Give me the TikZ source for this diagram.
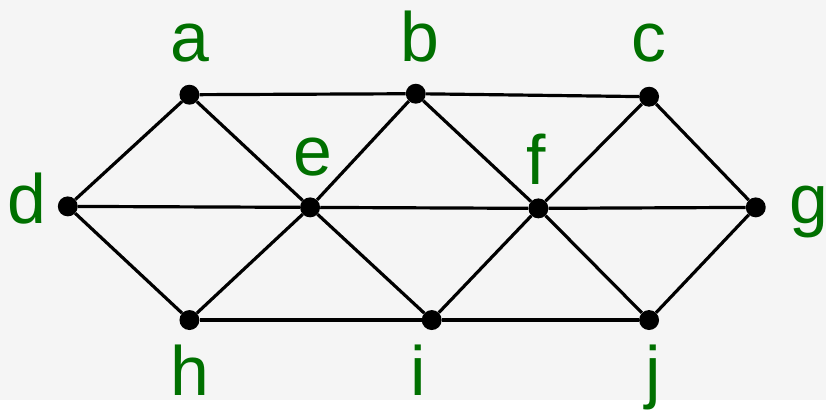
\documentclass[tikz,border=0pt]{standalone}
\usepackage{fontspec}
\setmainfont{Liberation Sans}
\usepackage{tikz}

\definecolor{labelgreen}{RGB}{0,112,0}
\definecolor{bggrey}{RGB}{245,245,245}

\tikzset{
  vertex/.style={circle, fill=black, inner sep=0pt, minimum size=20pt},
  edge/.style={draw=black, line width=3.2pt},
  vlabel/.style={anchor=base, inner sep=0pt, text=labelgreen,
    font=\fontsize{70}{70}\selectfont}
}

\begin{document}
\begin{tikzpicture}[x=1pt, y=1pt]
  % background
  \fill[bggrey] (0,0) rectangle (828,401);
  % vertices
  \node[vertex] (a) at (190,306) {};
  \node[vertex] (b) at (417,307) {};
  \node[vertex] (c) at (651,304) {};
  \node[vertex] (d) at (68,194) {};
  \node[vertex] (e) at (311,193) {};
  \node[vertex] (f) at (540,192) {};
  \node[vertex] (g) at (758,193) {};
  \node[vertex] (h) at (190,80) {};
  \node[vertex] (i) at (433,80) {};
  \node[vertex] (j) at (651,80) {};
  % horizontal edges
  \draw[edge] (a) -- (b);
  \draw[edge] (b) -- (c);
  \draw[edge] (d) -- (e);
  \draw[edge] (e) -- (f);
  \draw[edge] (f) -- (g);
  \draw[edge] (h) -- (i);
  \draw[edge] (i) -- (j);
  % diagonal edges
  \draw[edge] (d) -- (a);
  \draw[edge] (d) -- (h);
  \draw[edge] (a) -- (e);
  \draw[edge] (h) -- (e);
  \draw[edge] (e) -- (b);
  \draw[edge] (e) -- (i);
  \draw[edge] (b) -- (f);
  \draw[edge] (i) -- (f);
  \draw[edge] (f) -- (c);
  \draw[edge] (f) -- (j);
  \draw[edge] (c) -- (g);
  \draw[edge] (j) -- (g);
  % labels
  \node[vlabel] (la) at (190,339) {a};
  \node[vlabel] (lb) at (421,339) {b};
  \node[vlabel] (lc) at (651,339) {c};
  \node[vlabel] (ld) at (27,177) {d};
  \node[vlabel] (le) at (314,225) {e};
  \node[vlabel] (lf) at (538,216) {f};
  \node[vlabel] (lg) at (811,177) {g};
  \node[vlabel] (lh) at (190,4) {h};
  \node[vlabel] (li) at (419,4) {i};
  \node[vlabel] (lj) at (655,4) {j};
\end{tikzpicture}
\end{document}
